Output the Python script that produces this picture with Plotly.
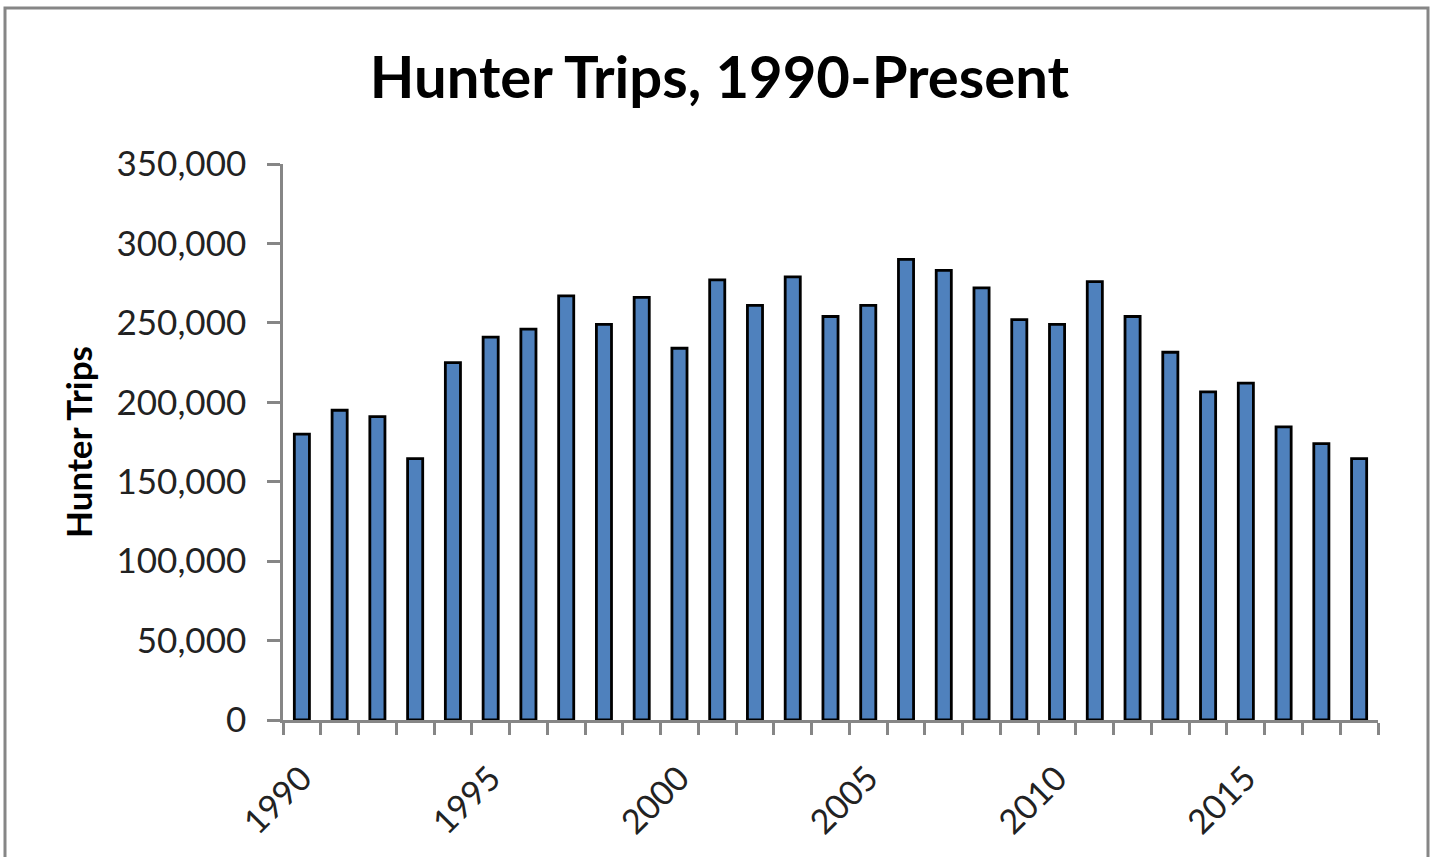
import plotly.graph_objects as go

years = list(range(1990, 2019))
hunter_trips = [180000, 195000, 191000, 164500, 225000, 241000, 246000, 267000, 249000, 266000,
                234000, 277000, 261000, 279000, 254000, 261000, 290000, 283000, 272000, 252000,
                249000, 276000, 254000, 231500, 206500, 212000, 184500, 174000, 164500]
label_years = [1990, 1995, 2000, 2005, 2010, 2015]
y_ticks = [0, 50000, 100000, 150000, 200000, 250000, 300000, 350000]

AXIS = "#868686"
FONT = "Lato, Carlito, Calibri, sans-serif"

fig = go.Figure()
fig.add_trace(go.Bar(
    x=years, y=hunter_trips, width=0.4,
    marker=dict(color="#4F81BD", line=dict(color="#000000", width=2.8)),
    showlegend=False,
))

fig.update_layout(
    width=1439, height=857,
    margin=dict(l=283, r=61, t=164, b=137),
    paper_bgcolor="white", plot_bgcolor="white",
    font=dict(family=FONT, color="#333333"),
    title=dict(text="<b>Hunter Trips, 1990-Present</b>", x=0.5, xanchor="center",
               y=1 - 78 / 857, yanchor="middle",
               font=dict(family=FONT, size=58, color="#000000")),
)

fig.update_xaxes(
    range=[1989.5, 2018.5],
    tickvals=label_years, ticktext=[str(y) for y in label_years],
    ticks="", tickangle=-45, ticklabelstandoff=22,
    tickfont=dict(size=34, color="#222222"),
    showline=True, linecolor=AXIS, linewidth=2.5,
    showgrid=False, zeroline=False,
    minor=dict(ticks="outside", ticklen=12, tickcolor=AXIS, tickwidth=2.5,
               tick0=1989.5, dtick=1, showgrid=False),
)

fig.update_yaxes(
    range=[0, 350000], tickvals=y_ticks, tickformat=",",
    ticks="outside", ticklen=13, tickcolor=AXIS, tickwidth=2.5,
    ticklabelstandoff=14,
    tickfont=dict(size=35, color="#222222"),
    showline=True, linecolor=AXIS, linewidth=2.5,
    showgrid=False, zeroline=False,
    title=dict(text="<b>Hunter Trips</b>", font=dict(family=FONT, size=35, color="#000000"),
               standoff=14),
)

# outer chart border
fig.add_shape(type="rect", xref="paper", yref="paper",
              x0=(5 - 283) / 1095, x1=(1428 - 283) / 1095,
              y0=(720 - 880) / 556, y1=(720 - 8) / 556,
              line=dict(color=AXIS, width=3), fillcolor="rgba(0,0,0,0)", layer="below")

fig.write_html("out.html", config={"displayModeBar": False},
               post_script="document.body.style.margin='0';")
